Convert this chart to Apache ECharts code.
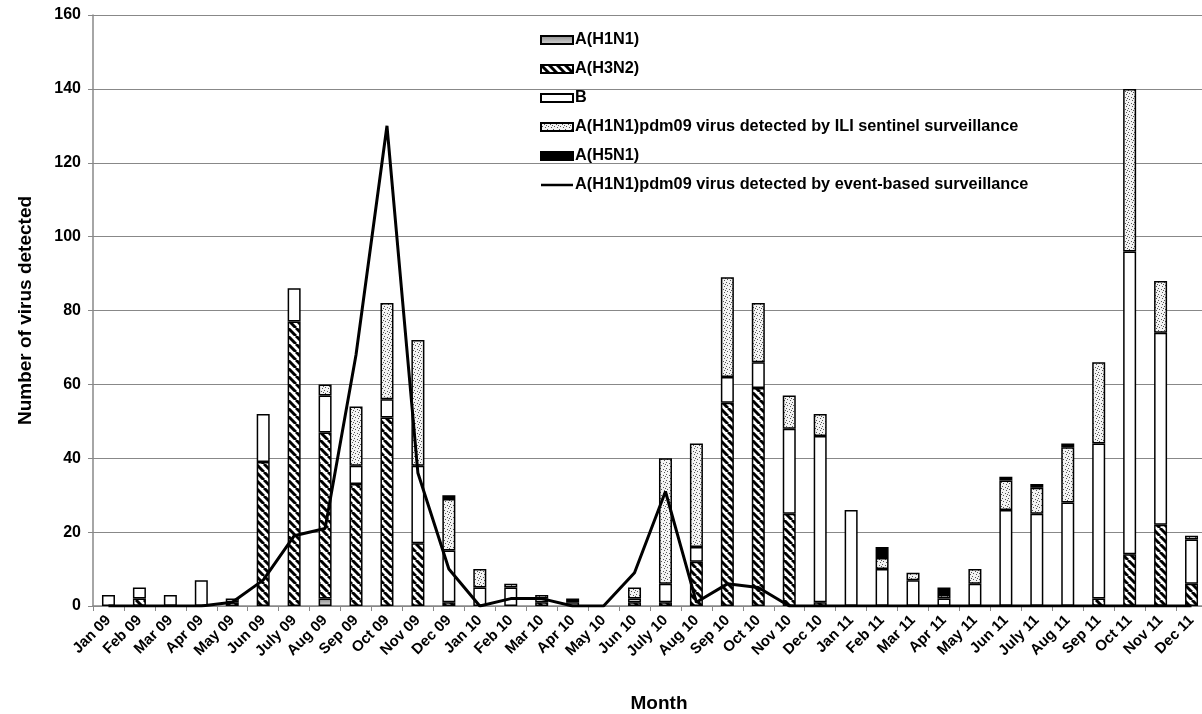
<!DOCTYPE html>
<html>
<head>
<meta charset="utf-8">
<script src="https://cdn.jsdelivr.net/npm/echarts@6/dist/echarts.min.js"></script>
<style>
html,body{margin:0;padding:0;background:#fff;}
#chart{width:1202px;height:714px;}
</style>
</head>
<body>
<div id="chart"></div>
<script>
const months = ['Jan 09','Feb 09','Mar 09','Apr 09','May 09','Jun 09','July 09','Aug 09','Sep 09','Oct 09','Nov 09','Dec 09',
  'Jan 10','Feb 10','Mar 10','Apr 10','May 10','Jun 10','July 10','Aug 10','Sep 10','Oct 10','Nov 10','Dec 10',
  'Jan 11','Feb 11','Mar 11','Apr 11','May 11','Jun 11','July 11','Aug 11','Sep 11','Oct 11','Nov 11','Dec 11'];
const h1n1 = [0,0,0,0,0,0,0,2,0,0,0,0, 0,0,0,0,0,0,0,0,0,0,0,0, 0,0,0,0,0,0,0,0,0,0,0,0];
const h3n2 = [0,2,0,0,1,39,77,45,33,51,17,1, 0,0,1,0,0,1,1,12,55,59,25,1, 0,0,0,0,0,0,0,0,2,14,22,6];
const fluB = [3,3,3,7,1,13,9,10,5,5,21,14, 5,5,1,1,0,1,5,4,7,7,23,45, 26,10,7,2,6,26,25,28,42,82,52,12];
const pdmILI = [0,0,0,0,0,0,0,3,16,26,34,14, 5,1,1,0,0,3,34,28,27,16,9,6, 0,3,2,1,4,8,7,15,22,44,14,1];
const h5n1 = [0,0,0,0,0,0,0,0,0,0,0,1, 0,0,0,1,0,0,0,0,0,0,0,0, 0,3,0,2,0,1,1,1,0,0,0,0];
const pdmEvent = [0,0,0,0,1,7,19,21,68,130,36,10, 0,2,2,0,0,9,31,1,6,5,0,0, 0,0,0,0,0,0,0,0,0,0,0,0];
const yTicks = {min:0, max:160, interval:20};
const names = ['A(H1N1)','A(H3N2)','B','A(H1N1)pdm09 virus detected by ILI sentinel surveillance','A(H5N1)','A(H1N1)pdm09 virus detected by event-based surveillance'];

function hatch(){
  const s=8;
  const c=document.createElement('canvas'); c.width=s; c.height=s;
  const g=c.getContext('2d'); g.fillStyle='#fff'; g.fillRect(0,0,s,s);
  g.strokeStyle='#000'; g.lineWidth=3;
  [-s,0,s].forEach(o=>{g.beginPath(); g.moveTo(o,0); g.lineTo(o+s,s); g.stroke();});
  return {image:c, repeat:'repeat'};
}
function dots(){
  const c=document.createElement('canvas'); c.width=6; c.height=6;
  const g=c.getContext('2d'); g.fillStyle='#f3f3f3'; g.fillRect(0,0,6,6);
  g.fillStyle='#555';
  [[0,0],[3,1],[1,3],[4,4],[5,2]].forEach(p=>g.fillRect(p[0],p[1],1,1));
  return {image:c, repeat:'repeat'};
}
function grayGrad(){
  return new echarts.graphic.LinearGradient(0,0,0,1,[{offset:0,color:'#8a8a8a'},{offset:1,color:'#d8d8d8'}]);
}
const nz = a => a.map(v => v === 0 ? null : v);
const font = 'Liberation Sans, Arial, sans-serif';
function bar(name, data, color){
  return {name, type:'bar', stack:'v', data:nz(data), barWidth:13,
    itemStyle:{color, borderColor:'#000', borderWidth:1.5}, emphasis:{disabled:true}};
}
const chart = echarts.init(document.getElementById('chart'));
chart.setOption({
  animation:false,
  backgroundColor:'#fff',
  textStyle:{fontFamily:font},
  grid:{left:93, right:-5, top:15, bottom:108, containLabel:false, outerBoundsMode:'none'},
  legend:{orient:'vertical', left:535, top:27, itemWidth:32, itemHeight:8, itemGap:13, icon:'rect',
    textStyle:{fontFamily:font, fontWeight:'bold', fontSize:16.3, color:'#000', padding:[0,0,0,-3]},
    data:names.slice(0,5).map(n=>({name:n})).concat([{name:names[5], icon:'path://M0,0 L128,0 L128,10 L0,10 Z', itemStyle:{color:'#000', borderWidth:0}}])},
  xAxis:{type:'category', data:months, boundaryGap:true,
    name:'Month', nameLocation:'middle', nameGap:88,
    nameTextStyle:{fontFamily:font, fontWeight:'bold', fontSize:19, color:'#000', padding:[0,0,0,18]},
    axisLine:{lineStyle:{color:'#888', width:1.5}},
    axisTick:{show:true, alignWithLabel:false, length:5, lineStyle:{color:'#888'}},
    axisLabel:{rotate:45, interval:0, fontFamily:font, fontWeight:'bold', fontSize:15, color:'#000', margin:12}},
  yAxis:{type:'value', min:yTicks.min, max:yTicks.max, interval:yTicks.interval,
    name:'Number of virus detected', nameLocation:'middle', nameRotate:90, nameGap:58,
    nameTextStyle:{fontFamily:font, fontWeight:'bold', fontSize:19, color:'#000'},
    axisLine:{show:true, lineStyle:{color:'#888', width:1.5}},
    axisTick:{show:true, length:5, lineStyle:{color:'#888'}},
    axisLabel:{fontFamily:font, fontWeight:'bold', fontSize:16, color:'#000', margin:12},
    splitLine:{lineStyle:{color:'#888', width:1.2}}},
  series:[
    bar(names[0], h1n1, grayGrad()),
    bar(names[1], h3n2, hatch()),
    bar(names[2], fluB, '#ffffff'),
    bar(names[3], pdmILI, dots()),
    bar(names[4], h5n1, '#000000'),
    {name:names[5], type:'line', data:pdmEvent,
     symbol:'none', lineStyle:{color:'#000', width:3}, itemStyle:{color:'#000'}, z:5}
  ]
});
</script>
</body>
</html>
